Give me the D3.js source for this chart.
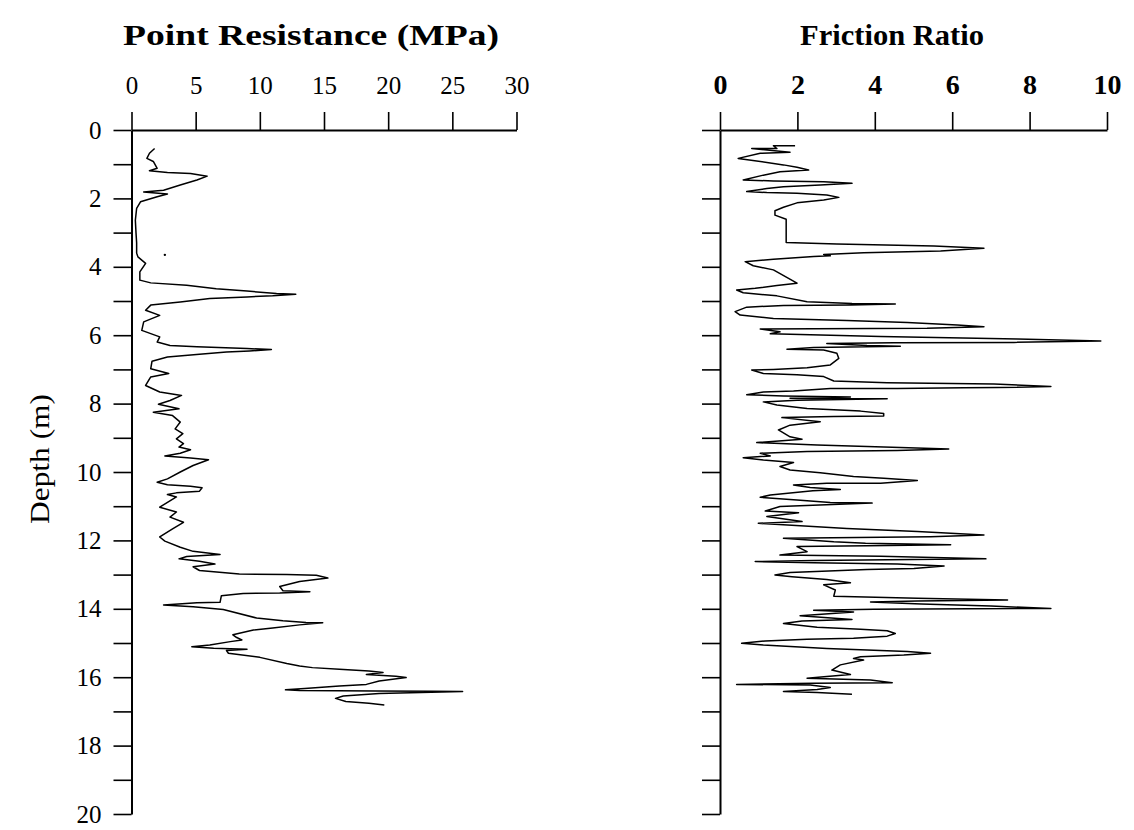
<!DOCTYPE html>
<html>
<head>
<meta charset="utf-8">
<script src="https://cdn.jsdelivr.net/npm/d3@7"></script>
<style>
  html, body { margin: 0; padding: 0; background: #fff; }
  svg { display: block; }
  text { font-family: "Liberation Serif", "Times New Roman", serif; fill: #000; }
</style>
</head>
<body>
<svg id="chart" width="1134" height="830"></svg>
<script>
// ---------- data ----------
const resistanceDepth = [0.54,0.68,0.83,0.92,1.12,1.19,1.24,1.27,1.35,1.46,1.61,1.76,1.81,1.87,1.95,2.10,2.29,2.64,3.0,3.3,3.6,3.71,3.90,4.15,4.39,4.47,4.54,4.64,4.71,4.78,4.80,4.85,4.88,4.93,5.03,5.12,5.27,5.42,5.61,5.86,6.05,6.20,6.30,6.34,6.39,6.42,6.46,6.49,6.56,6.64,6.76,6.98,7.12,7.22,7.47,7.66,7.76,7.91,8.02,8.15,8.25,8.35,8.54,8.74,8.88,9.03,9.17,9.27,9.35,9.45,9.53,9.59,9.64,9.81,10.0,10.2,10.3,10.37,10.42,10.46,10.56,10.61,10.66,10.73,11.03,11.17,11.32,11.47,11.66,11.9,12.02,12.2,12.32,12.41,12.47,12.54,12.61,12.69,12.77,12.88,12.98,13.0,13.02,13.1,13.2,13.35,13.47,13.5,13.54,13.55,13.62,13.81,13.82,13.89,13.94,14.02,14.27,14.35,14.4,14.41,14.47,14.56,14.62,14.76,14.84,14.91,14.96,15.06,15.11,15.15,15.18,15.22,15.3,15.42,15.6,15.67,15.72,15.77,15.82,15.86,15.92,15.97,16.01,16.11,16.21,16.26,16.33,16.37,16.39,16.40,16.41,16.42,16.48,16.55,16.62,16.71,16.76,16.81];
const resistanceMPa = [1.8,1.4,1.2,1.7,2.0,1.4,2.8,4.6,5.9,5.1,3.8,2.5,0.95,2.8,2.0,0.7,0.4,0.3,0.35,0.4,0.4,0.5,1.1,0.65,0.65,1.5,4.3,6.6,9.0,11.3,12.8,11.0,9.0,6.1,3.8,1.5,1.1,2.2,0.95,0.8,2.2,2.0,3.0,5.1,9.0,10.9,9.2,7.4,5.3,2.8,1.6,1.5,2.9,1.5,1.1,2.2,3.9,3.0,2.1,3.7,1.7,3.2,3.8,3.4,4.0,3.5,4.05,3.7,4.6,3.8,2.6,4.6,6.0,4.8,3.8,2.8,2.0,2.8,4.6,5.5,5.3,3.5,2.8,3.5,2.2,3.5,3.0,4.05,3.2,2.2,2.6,3.8,4.8,6.9,4.3,3.7,5.3,6.5,4.8,5.3,8.4,12.1,14.4,15.3,13.1,11.55,11.8,13.9,11.55,8.7,7.0,6.9,5.1,2.5,4.8,7.15,9.75,11.8,13.6,14.9,13.1,11.0,9.5,7.9,8.2,8.6,7.7,6.1,4.7,6.4,9.0,7.4,7.55,10.0,12.1,13.1,14.1,16.2,18.5,19.6,18.3,20.6,21.4,19.3,18.3,16.2,13.5,12.0,13.1,19.0,23.4,25.8,19.3,16.5,15.9,16.7,18.5,19.7];
const strayDepth = [3.65];
const strayMPa = [2.6];

const frictionDepth = [0.46,0.46,0.54,0.54,0.65,0.68,0.83,1.02,1.09,1.17,1.22,1.32,1.46,1.49,1.51,1.56,1.61,1.66,1.71,1.80,1.83,1.85,1.90,1.97,2.05,2.13,2.26,2.36,2.49,2.61,3.29,3.33,3.39,3.46,3.54,3.59,3.64,3.68,3.70,3.78,3.85,3.97,4.09,4.48,4.55,4.63,4.68,4.76,4.85,5.02,5.07,5.09,5.12,5.13,5.18,5.31,5.41,5.51,5.57,5.63,5.70,5.75,5.80,5.81,5.82,5.90,5.96,6.04,6.11,6.17,6.21,6.22,6.24,6.30,6.32,6.36,6.41,6.43,6.53,6.68,6.87,6.95,7.0,7.02,7.12,7.16,7.21,7.34,7.39,7.43,7.50,7.53,7.54,7.56,7.56,7.63,7.66,7.74,7.78,7.81,7.84,7.86,7.90,7.95,8.04,8.14,8.22,8.29,8.36,8.38,8.41,8.53,8.63,8.77,8.97,9.04,9.14,9.21,9.28,9.33,9.37,9.40,9.45,9.53,9.58,9.65,9.72,9.84,9.94,10.02,10.13,10.18,10.25,10.33,10.33,10.38,10.45,10.51,10.55,10.67,10.74,10.82,10.89,10.91,11.01,11.14,11.19,11.30,11.45,11.50,11.65,11.74,11.84,11.89,11.94,12.04,12.08,12.13,12.16,12.18,12.33,12.43,12.46,12.54,12.59,12.62,12.65,12.69,12.75,12.82,12.85,12.94,13.01,13.06,13.14,13.24,13.30,13.45,13.63,13.69,13.74,13.77,13.80,13.86,13.92,13.99,14.01,14.04,14.09,14.2,14.31,14.36,14.43,14.54,14.60,14.64,14.72,14.80,14.86,14.89,14.94,15.01,15.06,15.16,15.25,15.30,15.35,15.40,15.45,15.50,15.64,15.79,15.92,15.98,16.03,16.08,16.16,16.18,16.21,16.23,16.30,16.36,16.42,16.45,16.50];
const frictionRatio = [1.94,1.38,1.47,0.82,1.81,1.04,0.47,1.64,1.99,2.29,1.55,1.12,0.6,1.38,2.68,3.41,2.59,1.64,1.21,0.69,1.21,1.99,2.76,3.07,2.68,1.99,1.64,1.42,1.42,1.71,1.71,3.02,5.53,6.82,5.7,3.71,2.68,2.85,2.42,1.38,0.65,0.86,1.38,1.99,1.47,0.91,0.43,0.6,1.47,2.25,3.41,4.53,3.37,1.64,0.69,0.39,0.52,1.38,3.28,4.84,6.13,6.82,5.35,2.42,1.04,1.55,1.30,4.15,7.69,9.84,7.6,4.49,2.76,3.8,4.66,2.42,1.73,2.68,3.02,3.07,2.85,2.25,1.38,0.82,1.12,1.99,2.68,2.94,4.32,7.08,8.55,7.17,6.3,4.58,2.85,1.9,1.12,0.69,1.64,3.37,1.81,4.32,1.99,1.12,1.47,2.25,3.63,4.23,4.23,2.94,1.6,2.59,1.81,1.51,1.81,2.12,0.95,2.51,4.66,5.91,4.58,2.25,1.04,1.30,0.6,1.12,1.9,1.55,1.81,2.59,3.45,4.23,5.1,4.15,2.76,1.9,2.33,3.11,2.4,1.30,1.04,1.99,2.85,3.93,1.55,1.17,2.03,1.21,2.12,0.99,3.28,5.1,6.82,5.44,1.64,2.94,3.76,5.96,3.8,1.99,2.25,1.55,4.15,6.87,2.42,0.91,2.42,4.58,5.79,5.01,3.8,1.81,1.42,1.86,2.76,3.37,2.68,2.98,2.94,5.1,7.43,5.1,3.89,5.2,7.0,8.55,3.97,2.42,3.45,2.07,3.41,2.12,1.64,2.51,3.63,4.32,4.53,4.32,3.45,2.25,1.17,0.56,1.12,2.76,4.84,5.44,4.75,3.63,3.45,3.71,3.11,2.89,3.37,2.76,2.25,3.89,4.45,2.42,0.43,2.33,2.85,2.51,1.64,2.51,3.41];

const depthTicks = [0,1,2,3,4,5,6,7,8,9,10,11,12,13,14,15,16,17,18,19,20];
const resistanceTicks = [0,5,10,15,20,25,30];
const frictionTicks = [0,2,4,6,8,10];
const resistanceTitle = "Point Resistance (MPa)";
const frictionTitle = "Friction Ratio";
const depthTitle = "Depth (m)";

// ---------- drawing ----------
const svg = d3.select("#chart");

const y = d3.scaleLinear().domain([0, 20]).range([130, 814]);
const xL = d3.scaleLinear().domain([0, 30]).range([131.5, 516.5]);
const xR = d3.scaleLinear().domain([0, 10]).range([720, 1107]);

function styleAxis(g) {
  g.selectAll("path.domain").attr("stroke", "#000").attr("stroke-width", 2);
  g.selectAll(".tick line").attr("stroke", "#000").attr("stroke-width", 1.6);
}

// left panel axes
const gxL = svg.append("g").attr("transform", `translate(0,${y(0)})`)
  .call(d3.axisTop(xL).tickValues(resistanceTicks).tickSize(18).tickSizeOuter(0).tickPadding(18).tickFormat(d3.format("d")));
gxL.selectAll("text").attr("font-size", 25).attr("font-family", "Liberation Serif");
styleAxis(gxL);

const gyL = svg.append("g").attr("transform", `translate(${xL(0)},0)`)
  .call(d3.axisLeft(y).tickValues(depthTicks).tickSize(18).tickSizeOuter(0).tickPadding(12)
    .tickFormat(d => d % 2 === 0 ? d : ""));
gyL.selectAll("text").attr("font-size", 25).attr("font-family", "Liberation Serif");
styleAxis(gyL);

// right panel axes
const gxR = svg.append("g").attr("transform", `translate(0,${y(0)})`)
  .call(d3.axisTop(xR).tickValues(frictionTicks).tickSize(18).tickSizeOuter(0).tickPadding(18).tickFormat(d3.format("d")));
gxR.selectAll("text").attr("font-size", 28).attr("font-weight", "bold").attr("font-family", "Liberation Serif");
styleAxis(gxR);

const gyR = svg.append("g").attr("transform", `translate(${xR(0)},0)`)
  .call(d3.axisLeft(y).tickValues(depthTicks).tickSize(18).tickSizeOuter(0).tickFormat(() => ""));
styleAxis(gyR);

// titles
svg.append("text").attr("x", 311).attr("y", 45).attr("text-anchor", "middle")
  .attr("font-size", 29).attr("font-weight", "bold")
  .attr("textLength", 376).attr("lengthAdjust", "spacingAndGlyphs").text(resistanceTitle);
svg.append("text").attr("x", 892).attr("y", 45).attr("text-anchor", "middle")
  .attr("font-size", 29).attr("font-weight", "bold")
  .attr("textLength", 184).attr("lengthAdjust", "spacingAndGlyphs").text(frictionTitle);
svg.append("text").attr("transform", "translate(49,459) rotate(-90)").attr("text-anchor", "middle")
  .attr("font-size", 28)
  .attr("textLength", 130).attr("lengthAdjust", "spacingAndGlyphs").text(depthTitle);

// traces
const lineL = d3.line().x(i => xL(resistanceMPa[i])).y(i => y(resistanceDepth[i]));
svg.append("path").attr("d", lineL(d3.range(resistanceDepth.length)))
  .attr("fill", "none").attr("stroke", "#000").attr("stroke-width", 1.5).attr("stroke-linejoin", "round");

svg.selectAll("circle.stray").data(d3.range(strayDepth.length)).join("circle")
  .attr("class", "stray").attr("cx", i => xL(strayMPa[i])).attr("cy", i => y(strayDepth[i]))
  .attr("r", 1.2).attr("fill", "#000");

const lineR = d3.line().x(i => xR(frictionRatio[i])).y(i => y(frictionDepth[i]));
svg.append("path").attr("d", lineR(d3.range(frictionDepth.length)))
  .attr("fill", "none").attr("stroke", "#000").attr("stroke-width", 1.5).attr("stroke-linejoin", "round");
</script>
</body>
</html>
